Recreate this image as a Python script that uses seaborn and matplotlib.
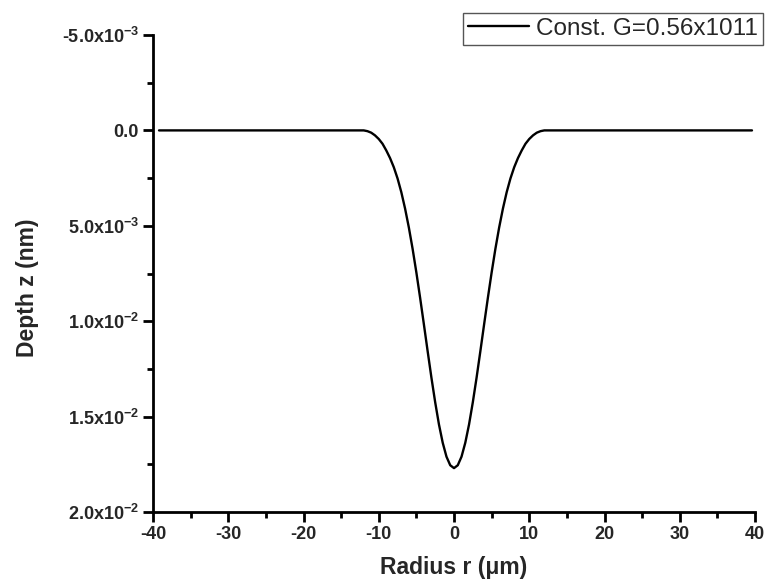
import numpy as np
import pandas as pd
import matplotlib
matplotlib.use("Agg")
import matplotlib.pyplot as plt
from matplotlib.ticker import MultipleLocator, FuncFormatter
import seaborn as sns

# Surface profile: radius (um) and depth (nm), depth measured downward
radius = [-39.2,
          -12.0, -11.5, -11.0, -10.5, -10.0, -9.5, -9.0, -8.5, -8.0, -7.5,
          -7.0, -6.5, -6.0, -5.5, -5.0, -4.5, -4.0, -3.5, -3.0, -2.5,
          -2.0, -1.5, -1.0, -0.5, 0.0, 0.5, 1.0, 1.5, 2.0, 2.5,
          3.0, 3.5, 4.0, 4.5, 5.0, 5.5, 6.0, 6.5, 7.0, 7.5,
          8.0, 8.5, 9.0, 9.5, 10.0, 10.5, 11.0, 11.5, 12.0,
          39.6]
depth = [0.0,
         0.0, 0.00004, 0.00012, 0.00026, 0.00045, 0.00070, 0.00105, 0.00145, 0.00193, 0.00252,
         0.00324, 0.00410, 0.00509, 0.00621, 0.00745, 0.00878, 0.01017, 0.01158, 0.01296, 0.01425,
         0.01541, 0.01637, 0.01710, 0.01755, 0.01770, 0.01755, 0.01710, 0.01637, 0.01541, 0.01425,
         0.01296, 0.01158, 0.01017, 0.00878, 0.00745, 0.00621, 0.00509, 0.00410, 0.00324, 0.00252,
         0.00193, 0.00145, 0.00105, 0.00070, 0.00045, 0.00026, 0.00012, 0.00004, 0.0,
         0.0]
series_label = "Const. G=0.56x1011"

x_ticks = [-40, -30, -20, -10, 0, 10, 20, 30, 40]
y_ticks = [-0.005, 0.0, 0.005, 0.010, 0.015, 0.020]

sns.set_theme(style="ticks")
plt.rcParams["font.family"] = ["Liberation Sans", "DejaVu Sans"]
plt.rcParams["mathtext.fontset"] = "custom"
plt.rcParams["mathtext.bf"] = "Liberation Sans:bold"
plt.rcParams["mathtext.rm"] = "Liberation Sans"
plt.rcParams["axes.unicode_minus"] = False

df = pd.DataFrame({"r": radius, "z": depth, "series": series_label})

fig = plt.figure(figsize=(7.67, 5.82), dpi=100)
ax = fig.add_axes([153 / 767, 1 - 512 / 582, (755 - 153) / 767, (512 - 35) / 582])

sns.lineplot(data=df, x="r", y="z", hue="series", palette=["black"],
             linewidth=1.7, sort=False, estimator=None, ax=ax)

ax.set_xlim(-40, 40)
ax.set_ylim(0.020, -0.005)
ax.set_xticks(x_ticks)
ax.set_yticks(y_ticks)
ax.xaxis.set_minor_locator(MultipleLocator(5))
ax.yaxis.set_minor_locator(MultipleLocator(0.0025))


def sci_fmt(v, pos):
    if abs(v) < 1e-12:
        return "0.0"
    exp = int(np.floor(np.log10(abs(v))))
    mant = v / 10 ** exp
    return r"%.1fx10$^{\mathbf{%d}}$" % (mant, exp)


ax.yaxis.set_major_formatter(FuncFormatter(sci_fmt))
ax.xaxis.set_major_formatter(FuncFormatter(lambda v, p: "%d" % v))

for side in ("top", "right"):
    ax.spines[side].set_visible(False)
for side in ("left", "bottom"):
    ax.spines[side].set_linewidth(2.0)
    ax.spines[side].set_color("black")

ax.tick_params(axis="both", which="major", direction="out", length=7, width=2,
               labelsize=13, color="black", pad=3)
ax.tick_params(axis="both", which="minor", direction="out", length=4, width=2,
               color="black")
for lab in ax.get_xticklabels() + ax.get_yticklabels():
    lab.set_fontweight("bold")

ax.set_xlabel("Radius r (\u03bcm)", fontsize=16.5, fontweight="bold")
ax.set_ylabel("Depth z (nm)", fontsize=16.5, fontweight="bold")
ax.xaxis.set_label_coords(0.5, -0.092)
ax.yaxis.set_label_coords(-0.19, 0.47)

leg = ax.legend(loc="upper right", bbox_to_anchor=(763 / 767, 1 - 13 / 582),
                bbox_transform=fig.transFigure, frameon=True, fancybox=False,
                fontsize=17.5, handlelength=2.5, borderpad=0.2, borderaxespad=0,
                handletextpad=0.3)
leg.get_frame().set_edgecolor("#555555")
leg.get_frame().set_linewidth(1.0)
leg.get_frame().set_facecolor("white")
leg.get_frame().set_alpha(1.0)

fig.savefig("out.png", dpi=100, facecolor="white")
